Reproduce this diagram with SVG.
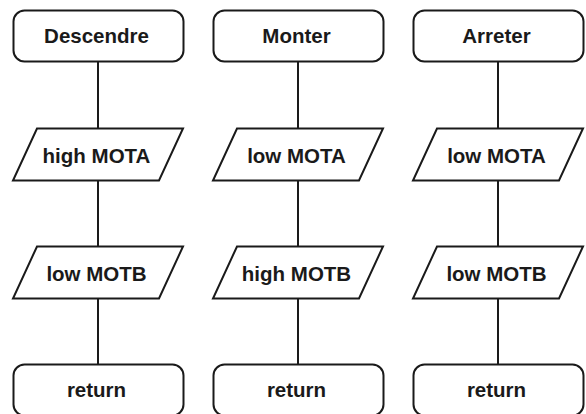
<svg xmlns="http://www.w3.org/2000/svg" width="586" height="414" viewBox="0 0 586 414">
<style>
.n{fill:#fff;stroke:#1a1a1a;stroke-width:2}
.t{font-family:"Liberation Sans",Arial,sans-serif;font-weight:bold;font-size:20.5px;fill:#1a1a1a;text-anchor:middle}
.c{stroke:#1a1a1a;stroke-width:2;fill:none}
</style>
<rect width="586" height="414" fill="#fff"/>
<g id="connectors">
<path class="c" d="M98 62V128M98 180V246M98 298V364"/>
<path class="c" d="M298 62V128M298 180V246M298 298V364"/>
<path class="c" d="M498 62V128M498 180V246M498 298V364"/>
</g>
<g id="n1"><rect class="n" x="13.5" y="10.5" width="170" height="51" rx="11"/><text class="t" x="96.5" y="42.5">Descendre</text></g>
<g id="n2"><path class="n" d="M37 128.5H183L159 180.5H13Z"/><text class="t" x="96.5" y="163">high MOTA</text></g>
<g id="n3"><path class="n" d="M37 246.5H183L159 298.5H13Z"/><text class="t" x="96.5" y="281">low MOTB</text></g>
<g id="n4"><rect class="n" x="13.5" y="364.5" width="170" height="51" rx="11"/><text class="t" x="96.5" y="397">return</text></g>
<g id="n5"><rect class="n" x="213.5" y="10.5" width="170" height="51" rx="11"/><text class="t" x="296.5" y="42.5">Monter</text></g>
<g id="n6"><path class="n" d="M237 128.5H383L359 180.5H213Z"/><text class="t" x="296.5" y="163">low MOTA</text></g>
<g id="n7"><path class="n" d="M237 246.5H383L359 298.5H213Z"/><text class="t" x="296.5" y="281">high MOTB</text></g>
<g id="n8"><rect class="n" x="213.5" y="364.5" width="170" height="51" rx="11"/><text class="t" x="296.5" y="397">return</text></g>
<g id="n9"><rect class="n" x="413.5" y="10.5" width="170" height="51" rx="11"/><text class="t" x="496.5" y="42.5">Arreter</text></g>
<g id="n10"><path class="n" d="M437 128.5H583L559 180.5H413Z"/><text class="t" x="496.5" y="163">low MOTA</text></g>
<g id="n11"><path class="n" d="M437 246.5H583L559 298.5H413Z"/><text class="t" x="496.5" y="281">low MOTB</text></g>
<g id="n12"><rect class="n" x="413.5" y="364.5" width="170" height="51" rx="11"/><text class="t" x="496.5" y="397">return</text></g>
</svg>
